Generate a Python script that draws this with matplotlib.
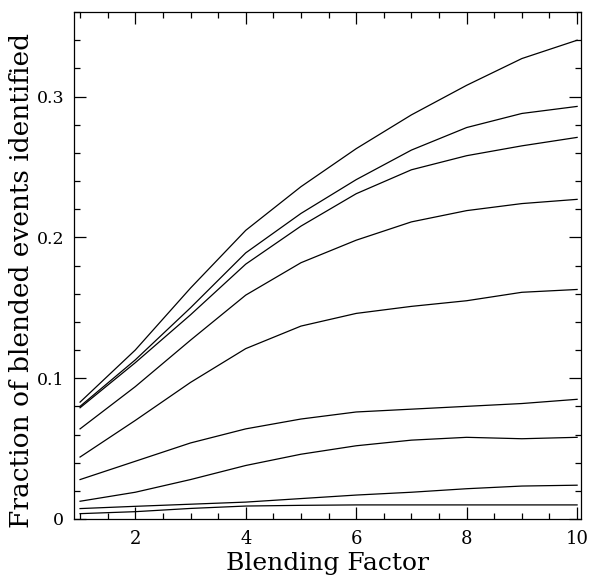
import matplotlib
matplotlib.use("Agg")
import matplotlib.pyplot as plt
from matplotlib.ticker import MultipleLocator

# blending factor (x) and fraction identified for each curve, top to bottom
blend = [1, 2, 3, 4, 5, 6, 7, 8, 9, 10]

frac_1 = [0.083, 0.120, 0.164, 0.205, 0.236, 0.263, 0.287, 0.308, 0.327, 0.340]
frac_2 = [0.080, 0.113, 0.150, 0.189, 0.217, 0.241, 0.262, 0.278, 0.288, 0.293]
frac_3 = [0.079, 0.111, 0.145, 0.181, 0.208, 0.231, 0.248, 0.258, 0.265, 0.271]
frac_4 = [0.064, 0.094, 0.127, 0.159, 0.182, 0.198, 0.211, 0.219, 0.224, 0.227]
frac_5 = [0.044, 0.070, 0.097, 0.121, 0.137, 0.146, 0.151, 0.155, 0.161, 0.163]
frac_6 = [0.028, 0.041, 0.054, 0.064, 0.071, 0.076, 0.078, 0.080, 0.082, 0.085]
frac_7 = [0.0126, 0.019, 0.028, 0.038, 0.046, 0.052, 0.056, 0.058, 0.057, 0.058]
frac_8 = [0.0074, 0.009, 0.0105, 0.012, 0.0145, 0.017, 0.019, 0.0215, 0.0234, 0.024]
frac_9 = [0.0038, 0.0052, 0.0075, 0.0092, 0.0097, 0.0100, 0.0100, 0.0100, 0.0100, 0.0100]

curves = [frac_1, frac_2, frac_3, frac_4, frac_5, frac_6, frac_7, frac_8, frac_9]

plt.rcParams["font.family"] = ["DejaVu Serif"]

fig = plt.figure(figsize=(5.9, 5.75), dpi=100)
ax = fig.add_axes([0.1254, 0.0974, 0.8593, 0.8816])

for frac in curves:
    ax.plot(blend, frac, color="black", linewidth=0.9)

ax.set_xlim(0.89, 10.07)
ax.set_ylim(0, 0.36)

ax.xaxis.set_major_locator(MultipleLocator(2))
ax.xaxis.set_minor_locator(MultipleLocator(0.5))
ax.yaxis.set_major_locator(MultipleLocator(0.1))
ax.yaxis.set_minor_locator(MultipleLocator(0.02))
ax.yaxis.set_major_formatter(plt.FuncFormatter(lambda v, p: "0" if v == 0 else "%g" % v))

ax.tick_params(which="both", direction="in", top=True, right=True, width=0.9)
ax.tick_params(which="major", length=8.6)
ax.tick_params(which="minor", length=4.3)
ax.tick_params(axis="x", pad=8, labelsize=13)
ax.tick_params(axis="y", pad=7, labelsize=12.5)

for s in ax.spines.values():
    s.set_linewidth(0.9)

ax.set_xlabel("Blending Factor", fontsize=18, labelpad=3)
ax.set_ylabel("Fraction of blended events identified", fontsize=19)
ax.yaxis.set_label_coords(-0.079, 0.47)

fig.savefig("out.png", dpi=100)
